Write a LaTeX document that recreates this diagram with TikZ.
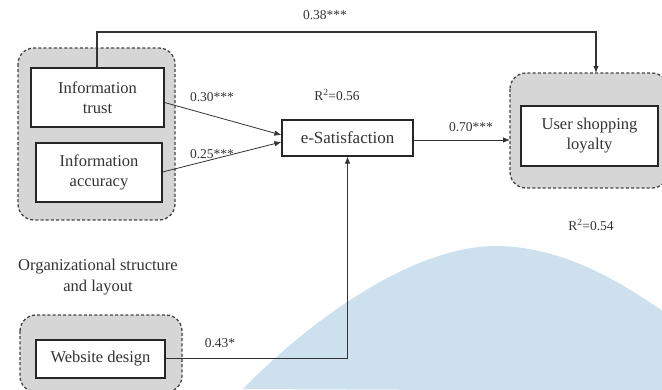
\documentclass[tikz,border=0pt]{standalone}
\usepackage{fontspec}
\setmainfont{Liberation Serif}
\usetikzlibrary{arrows.meta,calc}
\definecolor{wmblue}{HTML}{CDE0EE}
\definecolor{grpfill}{HTML}{D6D6D6}
\definecolor{grpline}{HTML}{444444}
\tikzset{
  grp/.style={draw=grpline, fill=grpfill, dash pattern=on 3pt off 2.2pt, line width=1.3pt, rounded corners=16pt},
  vbox/.style={draw=black!85, fill=white, line width=1.2pt, align=center, inner sep=0pt, font=\fontsize{16.5}{20}\selectfont, text=black!80},
  lbl/.style={font=\fontsize{13.5}{16}\selectfont, text=black!80, inner sep=0pt},
  conn/.style={draw=black!80, line width=0.8pt, -{Latex[length=7pt,width=5.5pt]}},
}
\begin{document}
\begin{tikzpicture}[x=1pt,y=-1pt]
\useasboundingbox (0,0) rectangle (662,389);
% watermark background
\fill[wmblue] (243,389) .. controls (290,340) and (400,247) .. (495,246)
  .. controls (565,246) and (625,285) .. (664,312) -- (664,391) -- cycle;
% groups
\draw[grp] (18,48) rectangle (175,220);
\draw[grp] (510,73) rectangle (668,188);
\draw[grp] (20,315) rectangle (182,392);
% boxes
\node[vbox, minimum width=133pt, minimum height=59pt] (trust) at (97.5,97.5) {Information\\trust};
\node[vbox, minimum width=126pt, minimum height=59pt] (acc) at (99,172.5) {Information\\accuracy};
\node[vbox, minimum width=131pt, minimum height=36pt, font=\fontsize{17}{20}\selectfont] (esat) at (347.5,138) {e-Satisfaction};
\node[vbox, minimum width=137pt, minimum height=60pt] (loyal) at (589.5,136) {User shopping\\loyalty};
\node[vbox, minimum width=129pt, minimum height=38pt] (web) at (100.5,359) {Website design};
\coordinate (g2top) at (596,73);
\coordinate (g2left) at (510,140);
% connectors
\draw[conn, line width=1.1pt] (trust.north -| 97,0) -- (97,32) -- (596,32) -- (g2top);
\draw[conn] ($(trust.east)+(0,5)$) -- ($(esat.west)+(0,-3)$);
\draw[conn] ($(acc.east)+(0,-0.5)$) -- ($(esat.west)+(0,4)$);
\draw[conn] ($(esat.east)+(0,2)$) -- (g2left);
\draw[conn] ($(web.east)+(0,-1)$) -| (esat.south);
% labels
\node[lbl] (l38) at (325,15) {0.38***};
\node[lbl] (l30) at (212,97) {0.30***};
\node[lbl] (l25) at (212,154) {0.25***};
\node[lbl] (r56) at (337,95) {R\textsuperscript{2}=0.56};
\node[lbl] (l70) at (471,127) {0.70***};
\node[lbl] (r54) at (591,225) {R\textsuperscript{2}=0.54};
\node[lbl] (l43) at (220,343) {0.43*};
\node[align=center, font=\fontsize{16.5}{21}\selectfont, text=black!80, inner sep=0pt] (org) at (98,277) {Organizational structure\\and layout};
\end{tikzpicture}
\end{document}
